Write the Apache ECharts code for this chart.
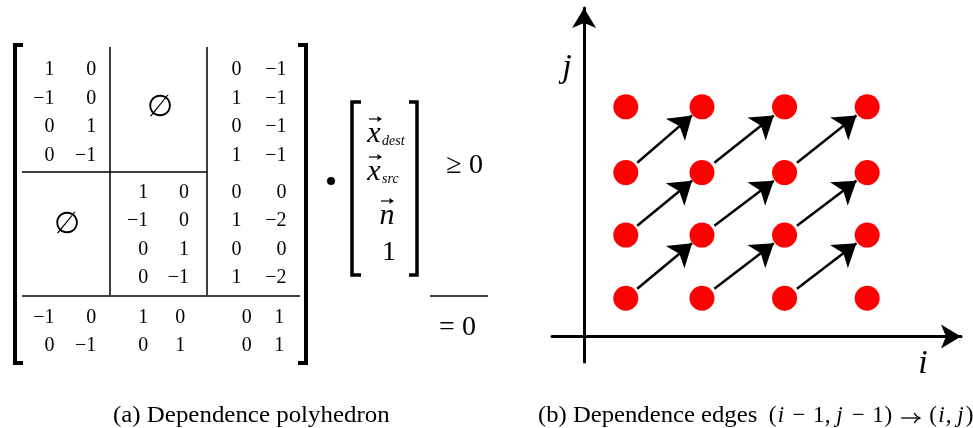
<!DOCTYPE html>
<html>
<head>
<meta charset="utf-8">
<script src="https://cdn.jsdelivr.net/npm/echarts@6/dist/echarts.min.js"></script>
<style>html,body{margin:0;padding:0;background:#fff;}#c{width:973px;height:428px;}</style>
</head>
<body>
<div id="c"></div>
<script>
// ---- data: dependence polyhedron matrix (rows of entries) ----
const matrixRows = [
  ['1', '0', '', '', '0', '−1'],
  ['−1', '0', '', '', '1', '−1'],
  ['0', '1', '', '', '0', '−1'],
  ['0', '−1', '', '', '1', '−1'],
  ['', '', '1', '0', '0', '0'],
  ['', '', '−1', '0', '1', '−2'],
  ['', '', '0', '1', '0', '0'],
  ['', '', '0', '−1', '1', '−2'],
  ['−1', '0', '1', '0', '0', '1'],
  ['0', '−1', '0', '1', '0', '1']
];
const vectorEntries = ['x_dest', 'x_src', 'n', '1'];
// iteration-space points (i and j positions)
const pointI = [0.52, 1.47, 2.5, 3.53];
const pointJ = [0.6, 1.59, 2.57, 3.6];
// dependence distance (i-1, j-1) -> (i, j)
const depDistance = [1, 1];
const captionA = '(a) Dependence polyhedron';
const captionBText = '(b) Dependence edges';
// math part of caption b: [glyph, TeX advance (em), italic?]
const captionBMath = [
  ['(', 0.389, 0], ['i', 0.345, 1], ['', 0.222, 0], ['−', 0.778, 0], ['', 0.222, 0],
  ['1', 0.5, 0], [',', 0.278, 0], ['', 0.167, 0], ['j', 0.412, 1], ['', 0.222, 0],
  ['−', 0.778, 0], ['', 0.222, 0], ['1', 0.5, 0], [')', 0.389, 0], ['', 0.278, 0],
  ['→', 1.0, 0], ['', 0.278, 0], ['(', 0.389, 0], ['i', 0.345, 1], [',', 0.278, 0],
  ['', 0.167, 0], ['j', 0.412, 1], [')', 0.389, 0]
];

// ---- layout (not data) ----
const colPos = [0, 0.9, 2.02, 2.9, 4.03, 5];
const colPosEq = [0, 0.9, 2.02, 2.82, 4.25, 4.95];
const rowPos = [0, 1, 2, 3, 4.3, 5.3, 6.3, 7.3, 8.7, 9.7];

const serif = '"Liberation Serif", "DejaVu Serif", serif';
const ink = '#000';

const matrixData = [];
matrixRows.forEach((row, r) => {
  row.forEach((v, c) => {
    if (v !== '') {
      const xp = r >= 8 ? colPosEq[c] : colPos[c];
      matrixData.push([xp, rowPos[r], v]);
    }
  });
});

const points = [];
pointJ.forEach((y) => pointI.forEach((x) => points.push([x, y])));

const edges = [];
const t0 = 0.15, t1 = 0.87;
for (let a = depDistance[0]; a < pointI.length; a++) {
  for (let b = depDistance[1]; b < pointJ.length; b++) {
    const x0 = pointI[a - depDistance[0]], y0 = pointJ[b - depDistance[1]];
    const x1 = pointI[a], y1 = pointJ[b];
    edges.push({coords: [
      [x0 + (x1 - x0) * t0, y0 + (y1 - y0) * t0],
      [x0 + (x1 - x0) * t1, y0 + (y1 - y0) * t1]
    ]});
  }
}

function txt(x, y, s, size, style, extra) {
  return Object.assign({
    type: 'text', x: x, y: y,
    style: {text: s, font: (style || '') + ' ' + size + 'px ' + serif, fill: ink, align: 'center', verticalAlign: 'middle'}
  }, extra || {});
}
function line(x1, y1, x2, y2, w) {
  return {type: 'line', shape: {x1, y1, x2, y2}, style: {stroke: ink, lineWidth: w}};
}
function poly(pts, w) {
  return {type: 'polyline', shape: {points: pts}, style: {stroke: ink, lineWidth: w, fill: null}};
}
function vecArrow(cx, y) {
  return [
    line(cx - 6, y, cx + 5, y, 1.2),
    {type: 'polygon', shape: {points: [[cx + 7, y], [cx + 2, y - 3], [cx + 3, y], [cx + 2, y + 3]]}, style: {fill: ink}}
  ];
}

// vector entries
const vecRowsY = [134, 172, 216, 253];
let vecGraphics = [];
vectorEntries.forEach((e, k) => {
  const y = vecRowsY[k];
  if (e.indexOf('_') > 0) {
    const [base, sub] = e.split('_');
    vecGraphics.push(txt(374, y, base, 30, 'italic'));
    vecGraphics = vecGraphics.concat(vecArrow(375, y - 15));
    vecGraphics.push({type: 'text', x: 382, y: y + 7,
      style: {text: sub, font: 'italic 14px ' + serif, fill: ink, align: 'left', verticalAlign: 'middle'}});
  } else if (e === 'n') {
    vecGraphics.push(txt(387, y, 'n', 30, 'italic'));
    vecGraphics = vecGraphics.concat(vecArrow(387, y - 15));
  } else {
    vecGraphics.push(txt(389, y, e, 28, ''));
  }
});

// caption b math pieces laid out with TeX advances
const capSize = 23;
let capGraphics = [];
let cx = 768;
captionBMath.forEach(([g, adv, it]) => {
  const w = adv * capSize;
  if (g === '→') {
    const ya = 418;
    capGraphics.push(line(cx + 2, ya, cx + w - 2, ya, 1.3));
    capGraphics.push({type: 'polyline', shape: {points: [[cx + w - 8, ya - 5], [cx + w - 5, ya - 1.5], [cx + w - 2, ya], [cx + w - 5, ya + 1.5], [cx + w - 8, ya + 5]], smooth: 0.3},
      style: {stroke: ink, lineWidth: 1.3, fill: null}});
  } else if (g !== '') {
    capGraphics.push({type: 'text', x: cx + w / 2, y: 416, style: {
      text: g, font: (it ? 'italic ' : '') + capSize + 'px ' + serif, fill: ink, align: 'center', verticalAlign: 'middle'}});
  }
  cx += w;
});

const graphics = [
  // big matrix brackets
  poly([[23, 45], [15, 45], [15, 363], [23, 363]], 4),
  poly([[298, 45], [306, 45], [306, 363], [298, 363]], 4),
  // partitions
  line(110, 47, 110, 295, 1.5),
  line(207, 47, 207, 295, 1.5),
  line(22, 172, 207, 172, 1.5),
  line(22, 296, 300, 296, 1.5),
  txt(160, 108, '∅', 30, ''),
  txt(67, 225, '∅', 30, ''),
  // product dot
  {type: 'circle', shape: {cx: 331, cy: 181, r: 4}, style: {fill: ink}},
  // vector brackets
  poly([[361, 102], [352, 102], [352, 275], [361, 275]], 3.5),
  poly([[409, 102], [417, 102], [417, 275], [409, 275]], 3.5),
  // relations
  txt(454, 166, '≥', 28, ''),
  txt(476, 166, '0', 28, ''),
  line(430, 296, 488, 296, 1.5),
  txt(447, 328, '=', 28, ''),
  txt(469, 328, '0', 28, ''),
  // axis names
  txt(567, 68, 'j', 34, 'italic'),
  txt(923, 364, 'i', 34, 'italic'),
  // captions
  {type: 'text', x: 113, y: 416, scaleX: 1.083, style: {text: captionA, font: capSize + 'px ' + serif, fill: ink, align: 'left', verticalAlign: 'middle'}},
  {type: 'text', x: 538, y: 416, scaleX: 1.073, style: {text: captionBText, font: capSize + 'px ' + serif, fill: ink, align: 'left', verticalAlign: 'middle'}}
].concat(vecGraphics, capGraphics);

const option = {
  animation: false,
  backgroundColor: '#fff',
  grid: [
    {left: 55, top: 70, width: 232, height: 276},
    {left: 552, right: 12, top: 8, bottom: 66}
  ],
  xAxis: [
    {gridIndex: 0, type: 'value', min: 0, max: 5, show: false},
    {gridIndex: 1, type: 'value', min: -0.4, max: 4.7,
      axisLine: {show: true, onZero: true, symbol: ['none', 'arrow'], symbolSize: [18, 20], lineStyle: {color: '#000', width: 3}},
      axisTick: {show: false}, axisLabel: {show: false}, splitLine: {show: false}}
  ],
  yAxis: [
    {gridIndex: 0, type: 'value', min: 0, max: 9.7, inverse: true, show: false},
    {gridIndex: 1, type: 'value', min: -0.4, max: 5.15,
      axisLine: {show: true, onZero: true, symbol: ['none', 'arrow'], symbolSize: [18, 20], lineStyle: {color: '#000', width: 3}},
      axisTick: {show: false}, axisLabel: {show: false}, splitLine: {show: false}}
  ],
  series: [
    {
      type: 'scatter', xAxisIndex: 0, yAxisIndex: 0, data: matrixData,
      symbolSize: 1, itemStyle: {color: 'rgba(0,0,0,0)'}, silent: true,
      label: {show: true, position: 'left', distance: 0, formatter: (p) => p.data[2],
        fontFamily: serif, fontSize: 20, color: '#000', opacity: 1, textBorderWidth: 0}
    },
    {
      type: 'lines', coordinateSystem: 'cartesian2d', xAxisIndex: 1, yAxisIndex: 1,
      data: edges, symbol: ['none', 'arrow'], symbolSize: [0, 22],
      lineStyle: {color: '#000', width: 2.5, opacity: 1}, silent: true, z: 3
    },
    {
      type: 'scatter', xAxisIndex: 1, yAxisIndex: 1, data: points,
      symbolSize: 25, itemStyle: {color: '#ff0000', opacity: 1}, silent: true, z: 2
    }
  ],
  graphic: graphics
};
const chart = echarts.init(document.getElementById('c'), null, {renderer: 'canvas'});
chart.setOption(option);
</script>
</body>
</html>
